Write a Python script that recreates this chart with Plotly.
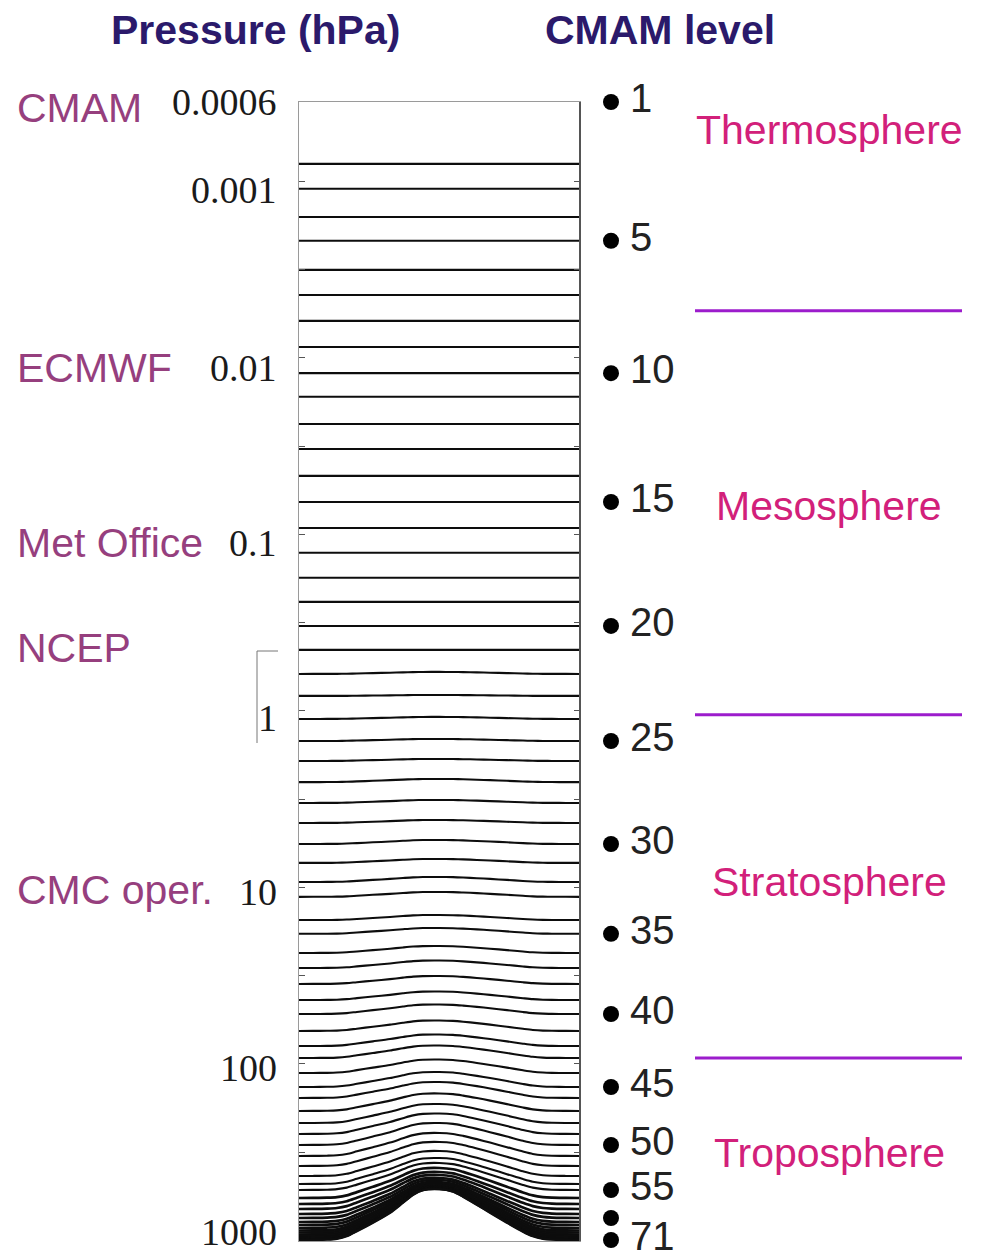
import numpy as np
import plotly.graph_objects as go

# ---------------- data ----------------
levels = list(range(1, 72))

# pressure (hPa) of each CMAM level at the domain edges (surface pressure 1000 hPa)
p_edge = [0.000355, 0.000796, 0.00110, 0.00159, 0.00217, 0.00317, 0.00440, 0.00617,
          0.00867, 0.0122, 0.0166, 0.0237, 0.0328, 0.0466, 0.0655, 0.0919, 0.127,
          0.176, 0.241, 0.330, 0.451, 0.617, 0.822, 1.11, 1.48, 1.92, 2.53, 3.32,
          4.31, 5.67, 7.26, 9.31, 11.3, 15.3, 18.3, 23.5, 28.6, 35.2, 43.4, 52.1,
          65.0, 79.1, 92.5, 112.5, 135.0, 155.8, 184.6, 216.0, 249.2, 287.7, 332.0,
          378.4, 431.2, 478.6, 517.5, 574.3, 621.2, 663.0, 707.7, 745.6, 785.6,
          817.0, 849.6, 877.7, 900.9, 924.7, 943.0, 961.6, 974.3, 987.0, 993.6]

# pressure (hPa) of each level above the mountain peak
p_peak = [0.000355, 0.000796, 0.00110, 0.00159, 0.00217, 0.00317, 0.00440, 0.00617,
          0.00867, 0.0122, 0.0166, 0.0237, 0.0328, 0.0466, 0.0655, 0.0919, 0.127,
          0.176, 0.241, 0.330, 0.451, 0.601, 0.812, 1.081, 1.441, 1.871, 2.428, 3.193,
          4.146, 5.382, 6.895, 8.720, 10.60, 14.32, 16.96, 21.45, 25.92, 31.72, 38.84,
          46.02, 56.68, 68.06, 78.58, 94.30, 111.0, 126.5, 146.9, 168.5, 190.8, 216.0,
          246.0, 276.6, 311.1, 340.9, 363.8, 388.4, 409.2, 425.6, 442.6, 454.3, 466.3,
          472.4, 478.6, 484.9, 488.1, 494.5, 497.7, 502.2, 505.5, 509.5, 510.8]

# surface pressure profile across the domain (fraction of width, hPa)
surf_x = [0.0, 0.05, 0.10, 0.135, 0.17, 0.206, 0.263, 0.324, 0.370, 0.406, 0.441, 0.5,
          0.548, 0.584, 0.633, 0.680, 0.740, 0.797, 0.832, 0.868, 0.90, 0.95, 1.0]
surf_p = [1000, 998, 993, 982, 950, 889, 796, 699, 613, 553, 521, 514,
          531, 567, 630, 699, 796, 895, 950, 982, 993, 998, 1000]

tick_values = [1e-3, 10**-2.5, 1e-2, 10**-1.5, 1e-1, 10**-0.5, 1, 10**0.5,
               10, 10**1.5, 100, 10**2.5, 1000]
tick_labels = ["0.0006", "0.001", "0.01", "0.1", "1", "10", "100", "1000"]

model_names = ["CMAM", "ECMWF", "Met Office", "NCEP", "CMC oper."]

marked_levels = [1, 5, 10, 15, 20, 25, 30, 35, 40, 45, 50, 55, 60, 71]
marked_labels = ["1", "5", "10", "15", "20", "25", "30", "35", "40", "45", "50", "55", "", "71"]

region_names = ["Thermosphere", "Mesosphere", "Stratosphere", "Troposphere"]
region_bounds = [0.0054, 1.05, 92.5]   # hPa

headers = ["Pressure (hPa)", "CMAM level"]

assert len(p_edge) == len(levels) == len(p_peak)

# ---------------- layout constants ----------------
W, H = 982, 1259
PL, PR, PT, PB = 299, 580, 102, 1241      # main frame in pixels
DL, DR = 595, 690                         # column of level markers
DENSE_FROM = 56                           # lowest levels drawn a little heavier


def xp(px):
    return px / W


def yp(py):
    return (PB - py) / (PB - PT)


SANS = "Liberation Sans, Arial, sans-serif"
SERIF = "Liberation Serif, Times New Roman, serif"
NAVY = "#2b1a6b"
MAUVE = "#963f7e"
PINK = "#d2207a"
VIOLET = "#9c1ccc"

tick_label_rows = [102, 190, 368, 543, 718, 892, 1068, 1232]
model_rows = [108, 368, 543, 648, 890]
region_rows = [130, 506, 882, 1153]
header_x = [256, 660]

# ---------------- figure ----------------
fig = go.Figure()

ps = np.array(surf_p, dtype=float)
ps_edge = ps[0]
ps_top = ps.min()
groups = {"upper": ([], []), "lower": ([], [])}
for lev, pe, pc in zip(levels, p_edge, p_peak):
    if lev == 1:
        continue  # model top coincides with the top of the frame
    B = (pe - pc) / (ps_edge - ps_top)
    A = pe - B * ps_edge
    gx, gy = groups["lower" if lev >= DENSE_FROM else "upper"]
    gx += list(surf_x) + [None]
    gy += list(A + B * ps) + [None]

for name, width in (("upper", 2.1), ("lower", 2.7)):
    gx, gy = groups[name]
    fig.add_trace(go.Scatter(x=gx, y=gy, mode="lines", xaxis="x", yaxis="y",
                             line=dict(color="#0d0d0d", width=width, shape="spline",
                                       smoothing=0.8),
                             hoverinfo="skip", connectgaps=False))

# level markers on the right
dot_p = [p_edge[l - 1] for l in marked_levels]
fig.add_trace(go.Scatter(x=[(611 - DL) / (DR - DL)] * len(dot_p), y=dot_p,
                         mode="markers+text", xaxis="x2", yaxis="y2",
                         text=["\u2009" + t if t else "" for t in marked_labels],
                         textposition="middle right",
                         textfont=dict(family=SANS, size=40, color="#222222"),
                         marker=dict(color="black", size=16),
                         cliponaxis=False, hoverinfo="skip"))

yrange = [np.log10(1000) + 0.0028, np.log10(p_edge[0])]
fig.update_layout(
    width=W, height=H,
    margin=dict(l=0, r=0, t=PT, b=H - PB),
    paper_bgcolor="white", plot_bgcolor="white",
    showlegend=False,
    xaxis=dict(domain=[PL / W, PR / W], range=[0, 1], showticklabels=False, ticks="",
               showgrid=False, zeroline=False, showline=True, linecolor="#9a9a9a",
               linewidth=1, mirror=True),
    yaxis=dict(type="log", range=yrange,
               tickmode="array", tickvals=tick_values, showticklabels=False,
               ticks="inside", ticklen=6, tickwidth=1, tickcolor="#555555",
               showgrid=False, zeroline=False, showline=True, linecolor="#9a9a9a",
               linewidth=1, mirror="ticks"),
    xaxis2=dict(domain=[DL / W, DR / W], range=[0, 1], visible=False, anchor="y2"),
    yaxis2=dict(type="log", range=yrange, visible=False, anchor="x2"),
)

shapes = []
# darker right border
shapes.append(dict(type="line", xref="paper", yref="paper", x0=xp(PR), x1=xp(PR), y0=0, y1=1,
                   line=dict(color="#555555", width=2)))
# bracket next to "1"
shapes.append(dict(type="line", xref="paper", yref="paper", x0=xp(257), x1=xp(257),
                   y0=yp(651), y1=yp(743), line=dict(color="#777777", width=1)))
shapes.append(dict(type="line", xref="paper", yref="paper", x0=xp(257), x1=xp(278),
                   y0=yp(651), y1=yp(651), line=dict(color="#777777", width=1)))
# region boundaries
for b in region_bounds:
    shapes.append(dict(type="line", xref="paper", yref="y", x0=xp(695), x1=xp(962),
                       y0=b, y1=b, line=dict(color=VIOLET, width=3)))
fig.update_layout(shapes=shapes)

ann = []
for t, r in zip(tick_labels, tick_label_rows):
    ann.append(dict(text=t, xref="paper", yref="paper", x=xp(279), y=yp(r),
                    xanchor="right", yanchor="middle", showarrow=False,
                    font=dict(family=SERIF, size=38, color="#1a1a1a")))
for t, r in zip(model_names, model_rows):
    ann.append(dict(text=t, xref="paper", yref="paper", x=xp(15), y=yp(r),
                    xanchor="left", yanchor="middle", showarrow=False,
                    font=dict(family=SANS, size=41, color=MAUVE)))
for t, r in zip(region_names, region_rows):
    ann.append(dict(text=t, xref="paper", yref="paper", x=xp(829), y=yp(r),
                    xanchor="center", yanchor="middle", showarrow=False,
                    font=dict(family=SANS, size=41, color=PINK)))
for t, cx in zip(headers, header_x):
    ann.append(dict(text="<b>" + t + "</b>", xref="paper", yref="paper", x=xp(cx), y=yp(30),
                    xanchor="center", yanchor="middle", showarrow=False,
                    font=dict(family=SANS, size=41, color=NAVY)))
fig.update_layout(annotations=ann)

fig.write_html("out.html")
